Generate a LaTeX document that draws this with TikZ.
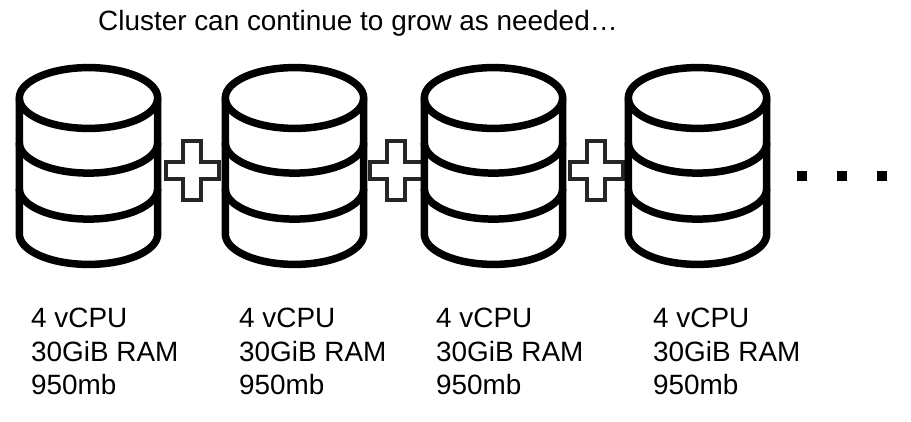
\documentclass[tikz,border=0pt]{standalone}
\usepackage{fontspec}
\setmainfont{Liberation Sans}
\tikzset{
  x=1pt,y=-1pt,
  cyl/.style={line width=7.5pt,draw=black,fill=white,line join=round},
  plusmark/.style={line width=4pt,draw=black!85,fill=white,miter limit=10},
  dotmark/.style={fill=black,draw=none,minimum width=10.5pt,minimum height=10.5pt,inner sep=0pt},
  lbl/.style={anchor=base west,inner sep=0pt,font=\fontsize{27.9}{28}\selectfont},
}
\newcommand{\drumshape}[1]{%
  \begin{scope}[shift={(#1,0)}]
    \path[cyl] (-69.2,98) -- (-69.2,234) arc[start angle=180,end angle=0,x radius=69.2,y radius=30.4] -- (69.2,98) arc[start angle=0,end angle=-180,x radius=69.2,y radius=30.4] -- cycle;
    \draw[cyl,fill=none] (-69.2,98) arc[start angle=180,end angle=0,x radius=69.2,y radius=30.4];
    \draw[cyl,fill=none] (-69.2,142.7) arc[start angle=180,end angle=0,x radius=69.2,y radius=30.4];
    \draw[cyl,fill=none] (-69.2,188.7) arc[start angle=180,end angle=0,x radius=69.2,y radius=30.4];
  \end{scope}}
\newcommand{\plusshape}[1]{%
  \begin{scope}[shift={(#1,170.5)}]
    \draw[plusmark] (-8.6,-29.5) -- (8.6,-29.5) -- (8.6,-8.6) -- (26.5,-8.6) -- (26.5,8.6) -- (8.6,8.6) -- (8.6,29.5) -- (-8.6,29.5) -- (-8.6,8.6) -- (-26.5,8.6) -- (-26.5,-8.6) -- (-8.6,-8.6) -- cycle;
  \end{scope}}
\begin{document}
\begin{tikzpicture}
\useasboundingbox (0,0) rectangle (911,422);
\plusshape{192}
\plusshape{396}
\plusshape{596}
\drumshape{88.5}
\drumshape{294.5}
\drumshape{493.5}
\drumshape{697.5}
\node[lbl] (title) at (98,31) {Cluster can continue to grow as needed…};
\node[dotmark] (d1) at (802,176) {};
\node[dotmark] (d2) at (842,176) {};
\node[dotmark] (d3) at (882,176) {};
\foreach \n/\xx in {a/31,b/239,c/436,d/653}{
  \node[lbl] (\n1) at (\xx,327) {4 vCPU};
  \node[lbl] (\n2) at (\xx,361) {30GiB RAM};
  \node[lbl] (\n3) at (\xx,394) {950mb};
}
\end{tikzpicture}
\end{document}
